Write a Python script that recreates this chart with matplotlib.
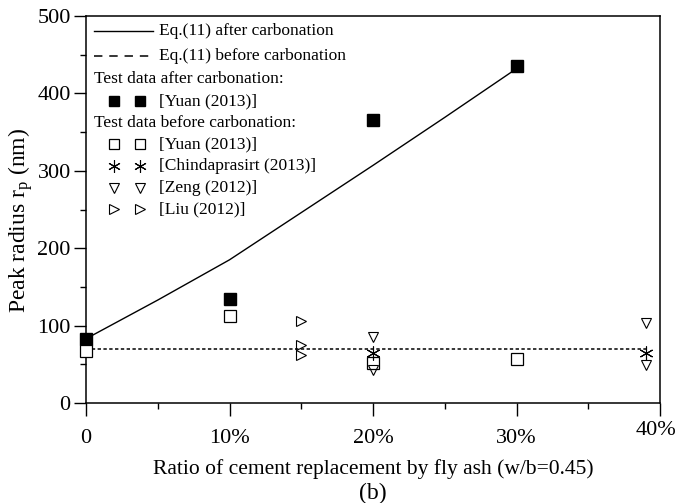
import matplotlib
matplotlib.use("Agg")
import matplotlib.pyplot as plt
import matplotlib.transforms as mtransforms
from matplotlib.ticker import MultipleLocator

plt.rcParams["font.family"] = ["Liberation Serif", "DejaVu Serif"]
plt.rcParams["mathtext.fontset"] = "custom"
plt.rcParams["mathtext.rm"] = "Liberation Serif"
plt.rcParams["mathtext.it"] = "Liberation Serif:italic"

# Eq.(11) after carbonation (fly ash replacement %, peak radius nm)
eq_after_x = [0, 5, 10, 15, 20, 25, 30]
eq_after_y = [83, 133, 185, 246, 307, 369, 432]

# Eq.(11) before carbonation
eq_before_x = [0, 39]
eq_before_y = [70, 70]

# Test data after carbonation
yuan_after_x = [0, 10, 20, 30]
yuan_after_y = [83, 135, 366, 436]

# Test data before carbonation
yuan_before_x = [0, 10, 20, 30]
yuan_before_y = [67, 113, 52, 57]

chinda_x = [20, 39]
chinda_y = [64, 64]

zeng_x = [20, 20, 39, 39]
zeng_y = [85, 42, 104, 49]

liu_x = [15, 15, 15]
liu_y = [106, 75, 62]

x_ticks = [0, 10, 20, 30, 40]
x_tick_labels = ["0", "10%", "20%", "30%", "40%"]
y_ticks = [0, 100, 200, 300, 400, 500]

fig = plt.figure(figsize=(6.78, 5.03), dpi=100)
ax = fig.add_axes([86 / 678, 100 / 503, 574 / 678, 387 / 503])

ax.plot(eq_after_x, eq_after_y, color="black", lw=1.0, zorder=2)
ax.plot(eq_before_x, eq_before_y, color="black", lw=1.1,
        linestyle=(0, (2.2, 1.6)), zorder=2)

mk = dict(ls="none", zorder=3, clip_on=False)
ax.plot(yuan_after_x, yuan_after_y, marker="s", ms=8,
        mfc="black", mec="black", **mk)
ax.plot(yuan_before_x, yuan_before_y, marker="s", ms=8,
        mfc="white", mec="black", mew=0.9, **mk)
ax.plot(chinda_x, chinda_y, marker=(6, 2, 0), ms=10,
        mec="black", mew=0.8, **mk)
ax.plot(zeng_x, zeng_y, marker="v", ms=7,
        mfc="none", mec="black", mew=0.8, **mk)
ax.plot(liu_x, liu_y, marker=">", ms=7,
        mfc="none", mec="black", mew=0.8, **mk)

ax.set_xlim(0, 40)
ax.set_ylim(0, 500)
ax.set_xticks(x_ticks)
ax.set_xticklabels(x_tick_labels)
ax.set_yticks(y_ticks)
ax.xaxis.set_minor_locator(MultipleLocator(5))
ax.yaxis.set_minor_locator(MultipleLocator(50))
ax.tick_params(which="major", direction="out", length=9, width=1.0,
               labelsize=16, top=False, right=False)
ax.tick_params(which="minor", direction="out", length=4.5, width=1.0,
               top=False, right=False)
ax.tick_params(axis="x", which="major", pad=10)
ax.tick_params(axis="y", which="major", pad=2)
for sp in ax.spines.values():
    sp.set_linewidth(1.1)

# the last x tick label sits slightly higher and left at the figure edge
last = ax.get_xticklabels()[-1]
last.set_transform(last.get_transform() +
                   mtransforms.ScaledTranslation(-4 / 100, 8 / 100,
                                                 fig.dpi_scale_trans))

ax.set_ylabel("Peak radius r$_\\mathrm{p}$ (nm)", fontsize=17)
ax.yaxis.set_label_coords(-0.088, 0.473)
ax.set_xlabel("Ratio of cement replacement by fly ash (w/b=0.45)",
              fontsize=15.5, labelpad=8)
fig.text((86 + 660) / 2 / 678, 1 - 493 / 503, "(b)", ha="center",
         va="center", fontsize=17)

# legend drawn in axes coordinates
def ax_x(px):
    return (px - 86) / 574


def ax_y(py):
    return (403 - py) / 387


tr = ax.transAxes
fs = 12.5
ax.plot([ax_x(94), ax_x(153)], [ax_y(31)] * 2, color="black", lw=1.0,
        transform=tr, clip_on=False)
ax.text(ax_x(159), ax_y(31), "Eq.(11) after carbonation", transform=tr,
        va="center", ha="left", fontsize=fs)
ax.plot([ax_x(94), ax_x(153)], [ax_y(56)] * 2, color="black", lw=1.1,
        linestyle=(0, (5.5, 4.5)), transform=tr, clip_on=False)
ax.text(ax_x(159), ax_y(56), "Eq.(11) before carbonation", transform=tr,
        va="center", ha="left", fontsize=fs)
ax.text(ax_x(94), ax_y(79), "Test data after carbonation:", transform=tr,
        va="center", ha="left", fontsize=fs)
ax.text(ax_x(94), ax_y(123), "Test data before carbonation:", transform=tr,
        va="center", ha="left", fontsize=fs)

legend_rows = [
    (101, "[Yuan (2013)]", dict(marker="s", ms=7, mfc="black", mec="black")),
    (144, "[Yuan (2013)]", dict(marker="s", ms=7, mfc="white", mec="black", mew=0.9)),
    (166, "[Chindaprasirt (2013)]", dict(marker=(6, 2, 0), ms=9, mec="black", mew=0.8)),
    (188, "[Zeng (2012)]", dict(marker="v", ms=7, mfc="none", mec="black", mew=0.8)),
    (209, "[Liu (2012)]", dict(marker=">", ms=7, mfc="none", mec="black", mew=0.8)),
]
for py, label, style in legend_rows:
    ax.plot([ax_x(114), ax_x(140)], [ax_y(py)] * 2, ls="none",
            transform=tr, clip_on=False, **style)
    ax.text(ax_x(159), ax_y(py), label, transform=tr, va="center",
            ha="left", fontsize=fs)

fig.savefig("out.png", dpi=100)
